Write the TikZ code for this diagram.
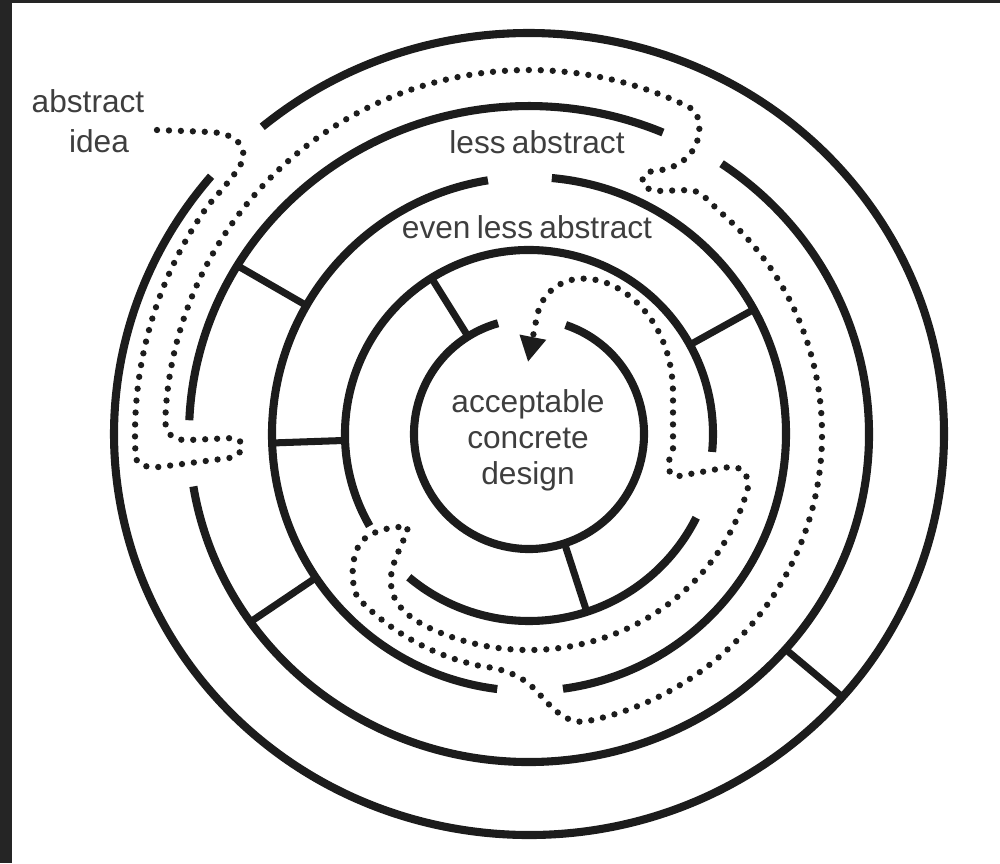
\documentclass[tikz,border=0pt]{standalone}
\usepackage{fontspec}
\setmainfont{Liberation Sans}
\usetikzlibrary{arrows.meta}
\definecolor{ink}{HTML}{1C1C1C}
\definecolor{txtgray}{HTML}{3E3E3E}
\definecolor{frame}{HTML}{252525}
\newcommand{\mazefont}{\fontsize{9}{10}\selectfont\spaceskip=0.2em\relax}
\begin{document}
\begin{tikzpicture}[x=0.01cm,y=-0.01cm,
  wall/.style={line width=2.3pt, draw=ink},
  spoke/.style={line width=2pt, draw=ink},
  trail/.style={line width=1.8pt, draw=ink, line cap=round, dash pattern=on 0pt off 3.4pt},
  lbl/.style={anchor=base, text=txtgray, inner sep=0pt, font=\mazefont}]
\useasboundingbox (0,0) rectangle (1000,863);
\fill[frame] (0,0) rectangle (12,863);
\fill[frame] (0,0) rectangle (1000,3);
\node[lbl] (txt0) at (88,112) {abstract};
\node[lbl] (txt1) at (99,152) {idea};
\node[lbl] (txt2) at (537,153) {less abstract};
\node[lbl] (txt3) at (527,238) {even less abstract};
\node[lbl] (txt4) at (528,412) {acceptable};
\node[lbl] (txt5) at (528,448) {concrete};
\node[lbl] (txt6) at (528,484) {design};
\begin{scope}[shift={(529,434)}]
\draw[wall] (-130:415 and 401) arc[start angle=-130, end angle=220, x radius=415, y radius=401];
\draw[wall] (-177.6:340 and 328) arc[start angle=-177.6, end angle=-66.8, x radius=340, y radius=328];
\draw[wall] (-55.5:340 and 328) arc[start angle=-55.5, end angle=170.8, x radius=340, y radius=328];
\draw[wall] (-84.9:257) arc[start angle=-84.9, end angle=82.4, radius=257];
\draw[wall] (97.1:257) arc[start angle=97.1, end angle=260.8, radius=257];
\draw[wall] (150:184) arc[start angle=150, end angle=365.6, radius=184];
\draw[wall] (26.6:187) arc[start angle=26.6, end angle=130, radius=187];
\draw[wall] (-71.4:115) arc[start angle=-71.4, end angle=254.4, radius=115];
\draw[spoke] (-150:257) -- (-150:337);
\draw[spoke] (146:257) -- (146:336);
\draw[spoke] (40:336) -- (40:410);
\draw[spoke] (-29:184) -- (-29:257);
\draw[spoke] (178:184) -- (178:257);
\draw[spoke] (-122:115) -- (-122:184);
\draw[spoke] (72:115) -- (72:187);
\draw[trail, -{Triangle[length=7.2pt, width=7.2pt]}] (-372,-304) -- (-318,-302)
  .. controls (-290,-300) and (-282,-285) .. (-287,-272)
  .. controls (-292,-262) and (-302,-250) .. (-144.5:394)
  arc[start angle=-144.5, end angle=-183, radius=394]
  .. controls (-393,32) and (-385,33) .. (-370,33) -- (-300,24)
  .. controls (-285,22) and (-282,6) .. (-296,4) -- (-340,6)
  .. controls (-356,7) and (-363,0) .. (-178:364)
  arc[start angle=-178, end angle=-64, radius=364]
  .. controls (172,-322) and (174,-300) .. (164,-284)
  .. controls (155,-270) and (140,-264) .. (125,-263)
  .. controls (110,-262) and (108,-245) .. (128,-243) -- (160,-244)
  .. controls (172,-244) and (180,-232) .. (-49:293)
  arc[start angle=-49, end angle=79, radius=293]
  .. controls (30,290) and (15,262) .. (0,250)
  .. controls (-12,240) and (-30,234) .. (101:237)
  arc[start angle=101, end angle=136, radius=237]
  .. controls (-178,155) and (-180,120) .. (-166,106)
  .. controls (-155,96) and (-135,92) .. (-121,93)
  .. controls (-125,110) and (-140,130) .. (-138,150)
  .. controls (-137,170) and (-120,185) .. (115:226 and 216)
  arc[start angle=115, end angle=14, x radius=226, y radius=216]
  .. controls (218,36) and (212,33) .. (200,33) -- (150,42)
  .. controls (138,44) and (137,30) .. (144,15) -- (144,-40)
  .. controls (144,-100) and (110,-140) .. (75,-152)
  .. controls (45,-162) and (15,-150) .. (8,-118) -- (-1,-72);
\end{scope}
\end{tikzpicture}
\end{document}
